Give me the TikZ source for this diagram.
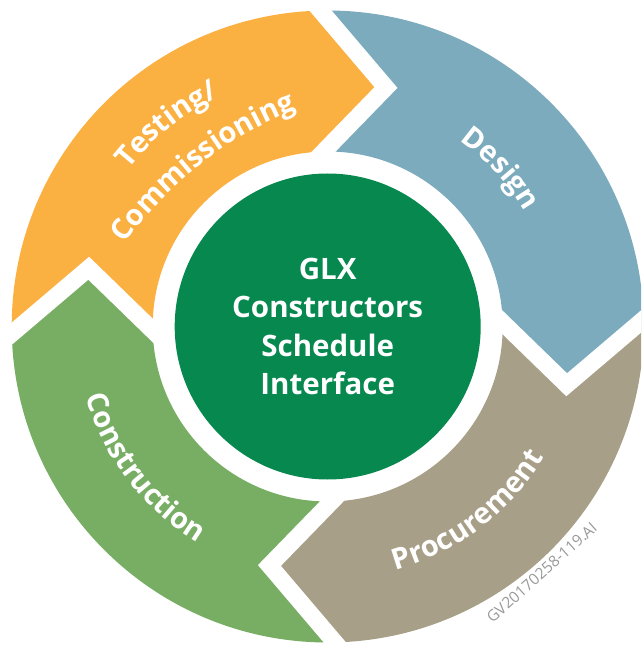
\documentclass[tikz,border=0pt]{standalone}
\usepackage{fontspec}
\setmainfont{Open Sans}
\usepackage{tikz}
\usetikzlibrary{calc, decorations.text}
\tikzset{>=stealth}

\definecolor{testorange}{HTML}{FBB042}
\definecolor{designblue}{HTML}{7BABBC}
\definecolor{procgray}{HTML}{A89F88}
\definecolor{buildgreen}{HTML}{78AE64}
\definecolor{hubgreen}{HTML}{06884F}
\definecolor{taggray}{HTML}{9A9A9A}

\newcommand{\ringfont}{\bfseries\fontsize{29}{35}\selectfont}
\newcommand{\hubfont}{\bfseries\fontsize{29.5}{38.5}\selectfont}

\tikzset{
	gapline/.style={white, line width=17pt, line join=miter},
	ringtext/.style={decorate, decoration={text along path, text align=center, text color=white, text={|\ringfont|#1}}}
}

\begin{document}
\begin{tikzpicture}[x=1pt,y=1pt]
		\useasboundingbox (-327.7,-318.5) rectangle (313.3,326.5);
		\clip (-327.7,-318.5) rectangle (313.3,326.5);
		
		% ring segments
		\fill [testorange] (181.3:316) arc[start angle=181.3, end angle=91.3, radius=316] -- (76.3:246) -- (91.3:175) arc[start angle=91.3, end angle=181.3, radius=175] -- (166.3:246) -- cycle;
		\fill [designblue] (91.3:316) arc[start angle=91.3, end angle=1.3, radius=316] -- (-13.7:246) -- (1.3:175) arc[start angle=1.3, end angle=91.3, radius=175] -- (76.3:246) -- cycle;
		\fill [procgray] (1.3:316) arc[start angle=1.3, end angle=-88.7, radius=316] -- (-103.7:246) -- (-88.7:175) arc[start angle=-88.7, end angle=1.3, radius=175] -- (-13.7:246) -- cycle;
		\fill [buildgreen] (-88.7:316) arc[start angle=-88.7, end angle=-178.7, radius=316] -- (166.3:246) -- (181.3:175) arc[start angle=-178.7, end angle=-88.7, radius=175] -- (-103.7:246) -- cycle;
		
		% white gaps
		\draw [gapline] ($(76.3:246)!1.5!(91.3:316)$) -- (76.3:246) -- ($(76.3:246)!1.5!(91.3:175)$);
		\draw [gapline] ($(-13.7:246)!1.5!(1.3:316)$) -- (-13.7:246) -- ($(-13.7:246)!1.5!(1.3:175)$);
		\draw [gapline] ($(-103.7:246)!1.5!(-88.7:316)$) -- (-103.7:246) -- ($(-103.7:246)!1.5!(-88.7:175)$);
		\draw [gapline] ($(166.3:246)!1.5!(181.3:316)$) -- (166.3:246) -- ($(166.3:246)!1.5!(181.3:175)$);
		
		% labels on the ring
		\path [ringtext={Testing/}] (173.5:254) arc[start angle=173.5, end angle=83.5, radius=254];
		\path [ringtext={Commissioning}] ($(308:174)+(150:380)$) arc[start angle=150, end angle=106, radius=380];
		\path [ringtext={Design}] (82.4:228) arc[start angle=82.4, end angle=2.4, radius=228];
		\path [ringtext={Procurement}] (-97.75:253) arc[start angle=-97.75, end angle=-7.75, radius=253];
		\path [ringtext={Construction}] (172.6:252) arc[start angle=172.6, end angle=262.6, radius=252];
		
		\fill [hubgreen] (0,0) circle[radius=153];
		\node (hub) at (0,0) [align=center, text=white, font=\hubfont] {GLX\\Constructors\\Schedule\\Interface};
		
		\node (tag) at (214,-246) [rotate=41.6, text=taggray, font=\fontsize{15.5}{18}\selectfont] {GV20170258-119.AI};
		
\end{tikzpicture}
\end{document}
